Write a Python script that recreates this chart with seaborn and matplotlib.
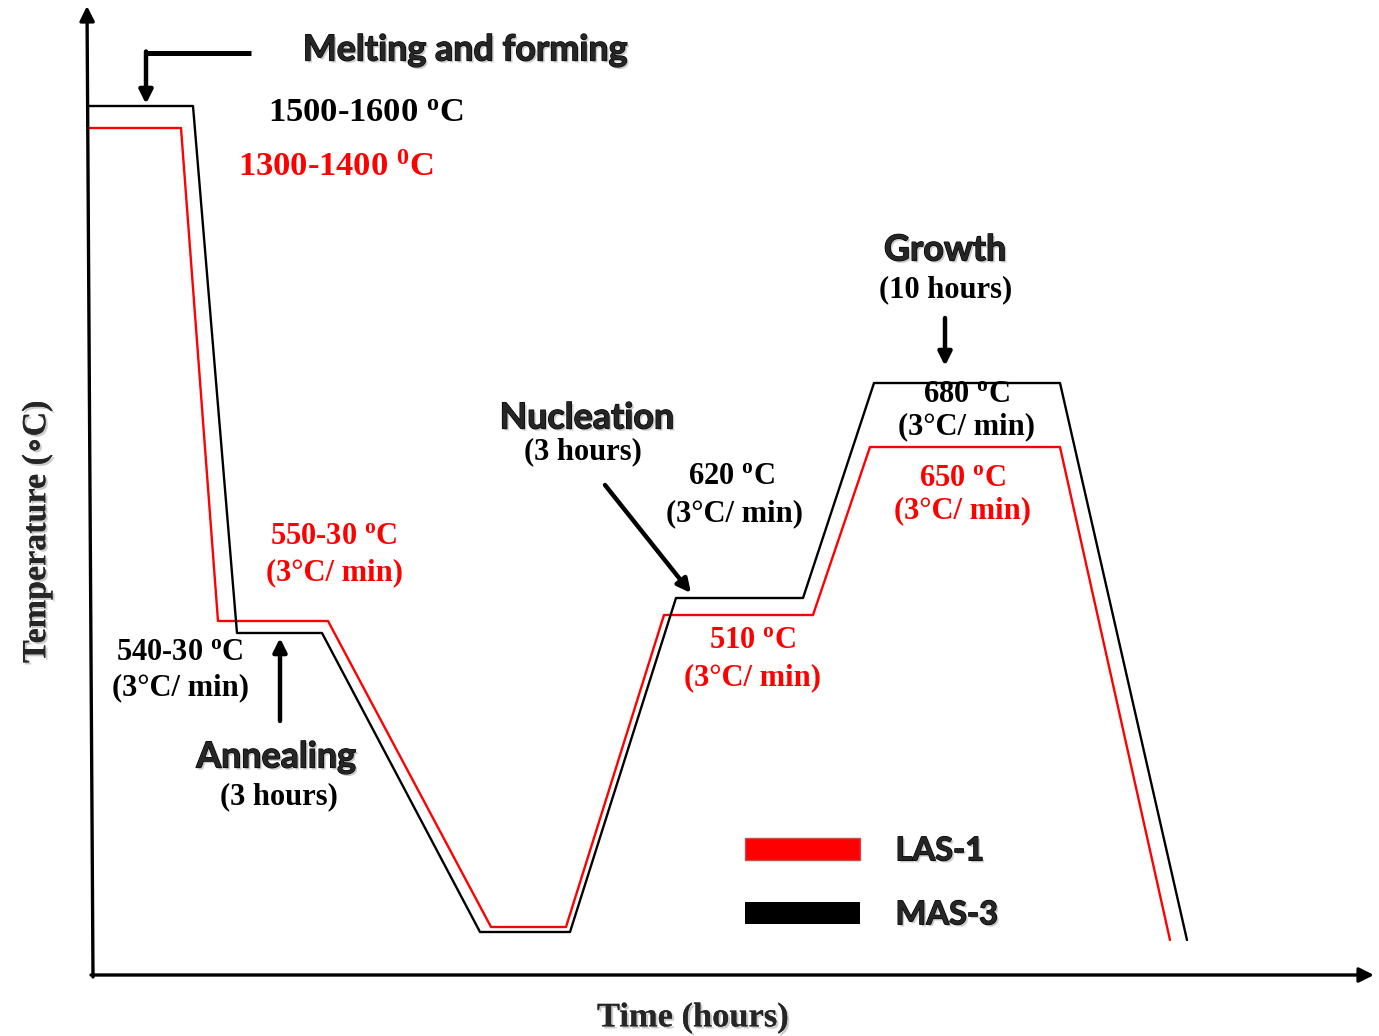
import matplotlib
matplotlib.use("Agg")
import matplotlib.pyplot as plt
import matplotlib.patheffects as pe
from matplotlib.patches import Patch
from matplotlib.font_manager import FontProperties
import seaborn as sns
import pandas as pd

# ---- data (schematic units) ----
las_time = [88, 181, 218, 328, 491, 566, 664, 813, 870, 1060, 1170]
las_temp = [908, 908, 415, 415, 109, 109, 421, 421, 589, 589, 96]
mas_time = [88, 193, 237, 322, 480, 570, 676, 803, 874, 1060, 1187]
mas_temp = [930, 930, 403, 403, 104, 104, 438, 438, 653, 653, 96]
series_names = ["LAS-1", "MAS-3"]
series_colors = ["#ff0000", "#000000"]

W, H = 1379, 1036

sns.set_style("white")
plt.rcParams["mathtext.fontset"] = "custom"
plt.rcParams["mathtext.rm"] = "Liberation Serif:bold"
plt.rcParams["mathtext.it"] = "Liberation Serif:bold"
plt.rcParams["mathtext.bf"] = "Liberation Serif:bold"
plt.rcParams["font.family"] = ["Liberation Serif", "DejaVu Serif"]

df = pd.concat([
    pd.DataFrame({"time": las_time, "temp": las_temp, "sample": series_names[0]}),
    pd.DataFrame({"time": mas_time, "temp": mas_temp, "sample": series_names[1]}),
], ignore_index=True)

fig = plt.figure(figsize=(W / 100, H / 100), dpi=100)
ax = fig.add_axes([0, 0, 1, 1])
sns.lineplot(data=df, x="time", y="temp", hue="sample", hue_order=series_names,
             palette=dict(zip(series_names, series_colors)), sort=False,
             estimator=None, lw=1.7, legend=False, ax=ax)
ax.set_xlim(0, W)
ax.set_ylim(0, H)
ax.axis("off")


def Y(p):
    return H - p


# axes arrows
arrow_kw = dict(arrowstyle="-|>", color="black", lw=2.4, mutation_scale=22,
                shrinkA=0, shrinkB=0)
ax.annotate("", xy=(87, Y(6)), xytext=(93, Y(977)), arrowprops=arrow_kw)
ax.annotate("", xy=(1374, Y(975)), xytext=(91, Y(975)), arrowprops=arrow_kw)

# annotation arrows
ann_kw = dict(arrowstyle="-|>", color="black", lw=3.2, mutation_scale=20,
              shrinkA=0, shrinkB=0)
ax.plot([251, 146], [Y(53), Y(53)], color="black", lw=3.6, solid_capstyle="butt")
ax.annotate("", xy=(146, Y(104)), xytext=(146, Y(51.5)), arrowprops=ann_kw)
ax.annotate("", xy=(945, Y(366)), xytext=(945, Y(318)), arrowprops=ann_kw)
ax.annotate("", xy=(691, Y(593)), xytext=(605, Y(485)), arrowprops=ann_kw)
ax.annotate("", xy=(280, Y(638)), xytext=(280, Y(721)), arrowprops=ann_kw)

shadow = [pe.withSimplePatchShadow(offset=(1.5, -1.5), shadow_rgbFace="0.55", alpha=0.45),
          pe.Normal()]
heavy = [pe.withSimplePatchShadow(offset=(1.5, -1.5), shadow_rgbFace="0.55", alpha=0.45),
         pe.withStroke(linewidth=0.9, foreground="black")]
sans = ["Lato", "DejaVu Sans"]


def head(x, y, s, size):
    ax.text(x, Y(y), s, fontsize=size, fontweight="bold", family=sans,
            ha="center", va="center", path_effects=heavy)


def lab(x, y, s, size=22, color="black"):
    ax.text(x, Y(y), s, fontsize=size, fontweight="bold", color=color,
            ha="center", va="center")


head(465, 50, "Melting and forming", 25.8)
head(945, 250, "Growth", 25.8)
head(587, 418, "Nucleation", 25.8)
head(276, 757, "Annealing", 25.8)

lab(366, 113, "1500-1600 $^{\\mathrm{o}}$C", 24.8)
lab(336, 168, "1300-1400 $^{\\mathrm{0}}$C", 24.8, "#ff0000")
lab(946, 290, "(10 hours)")
lab(966, 395, "680 $^{\\mathrm{o}}$C")
lab(966, 427, "(3°C/ min)")
lab(962, 478, "650 $^{\\mathrm{o}}$C", color="#ff0000")
lab(962, 511, "(3°C/ min)", color="#ff0000")
lab(583, 452, "(3 hours)")
lab(731, 477, "620 $^{\\mathrm{o}}$C")
lab(735, 514, "(3°C/ min)")
lab(752, 641, "510 $^{\\mathrm{o}}$C", color="#ff0000")
lab(752, 678, "(3°C/ min)", color="#ff0000")
lab(334, 536, "550-30 $^{\\mathrm{o}}$C", color="#ff0000")
lab(334, 573, "(3°C/ min)", color="#ff0000")
lab(180, 652, "540-30 $^{\\mathrm{o}}$C")
lab(180, 688, "(3°C/ min)")
lab(279, 797, "(3 hours)")

ax.text(693, Y(1018), "Time (hours)", fontsize=24.8, fontweight="bold",
        ha="center", va="center", path_effects=shadow)
ax.text(37, Y(532), "Temperature (∘C)", fontsize=24.5, fontweight="bold",
        ha="center", va="center", rotation=90, path_effects=shadow)

# legend
handles = [Patch(facecolor="#ff0000", edgecolor="#c0504d", lw=1.0),
           Patch(facecolor="#000000", edgecolor="#000000", lw=0)]
leg_font = FontProperties(family=sans, weight="bold", size=23.5)
leg = ax.legend(handles, series_names, loc="upper left",
                bbox_to_anchor=(716 / W, 1 - 807 / H), frameon=False,
                prop=leg_font,
                handlelength=3.5, handleheight=0.65, handletextpad=1.1,
                labelspacing=1.07)
for t in leg.get_texts():
    t.set_fontproperties(leg_font)
    t.set_path_effects(heavy)

fig.savefig("out.png", dpi=100, facecolor="white")
